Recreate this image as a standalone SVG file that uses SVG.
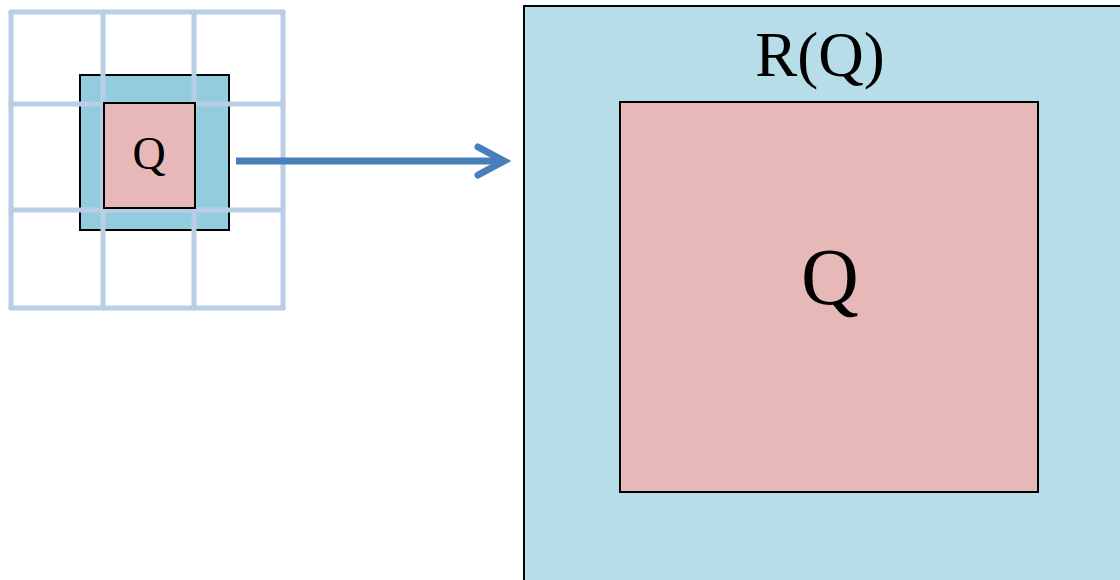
<svg xmlns="http://www.w3.org/2000/svg" width="1120" height="580" viewBox="0 0 1120 580">
  <style>
    .lbl { font-family: "Liberation Serif", "DejaVu Serif", serif; fill: #000; text-anchor: middle; }
    .grid { stroke: #b9cde5; stroke-width: 5; stroke-linecap: round; fill: none; }
    .outer { stroke: #000; stroke-width: 2; }
    .arrow { fill: none; stroke: #4a7ebb; stroke-width: 7; stroke-linecap: round; }
    .shaft { stroke-linecap: butt; }
  </style>
  <rect width="1120" height="580" fill="#ffffff"/>

  <!-- small neighbourhood on the left -->
  <g id="small-region">
    <rect x="80" y="75" width="149" height="155" fill="#93cddd" class="outer"/>
  </g>
  <g id="grid">
    <line class="grid" x1="11" y1="12" x2="283" y2="12"/>
    <line class="grid" x1="11" y1="104" x2="283" y2="104"/>
    <line class="grid" x1="11" y1="210" x2="283" y2="210"/>
    <line class="grid" x1="11" y1="308" x2="283" y2="308"/>
    <line class="grid" x1="11" y1="12" x2="11" y2="308"/>
    <line class="grid" x1="103" y1="12" x2="103" y2="308"/>
    <line class="grid" x1="194" y1="12" x2="194" y2="308"/>
    <line class="grid" x1="283" y1="12" x2="283" y2="308"/>
  </g>
  <g id="small-q">
    <rect x="104" y="103" width="91" height="105" fill="#e6b9b8" class="outer"/>
    <text class="lbl" x="149" y="169" font-size="46">Q</text>
  </g>

  <!-- enlarged view on the right -->
  <g id="big-region">
    <rect x="524" y="6" width="610" height="590" fill="#b7dde8" class="outer"/>
    <text class="lbl" x="820" y="76" font-size="63">R(Q)</text>
  </g>
  <g id="big-q">
    <rect x="620" y="102" width="418" height="390" fill="#e6b8b7" class="outer"/>
    <text class="lbl" x="830" y="304" font-size="80">Q</text>
  </g>

  <g id="connectors">
    <line class="arrow shaft" x1="236" y1="161" x2="503" y2="161"/>
    <path class="arrow" d="M478,147 L504,161 L478,175"/>
  </g>
</svg>
